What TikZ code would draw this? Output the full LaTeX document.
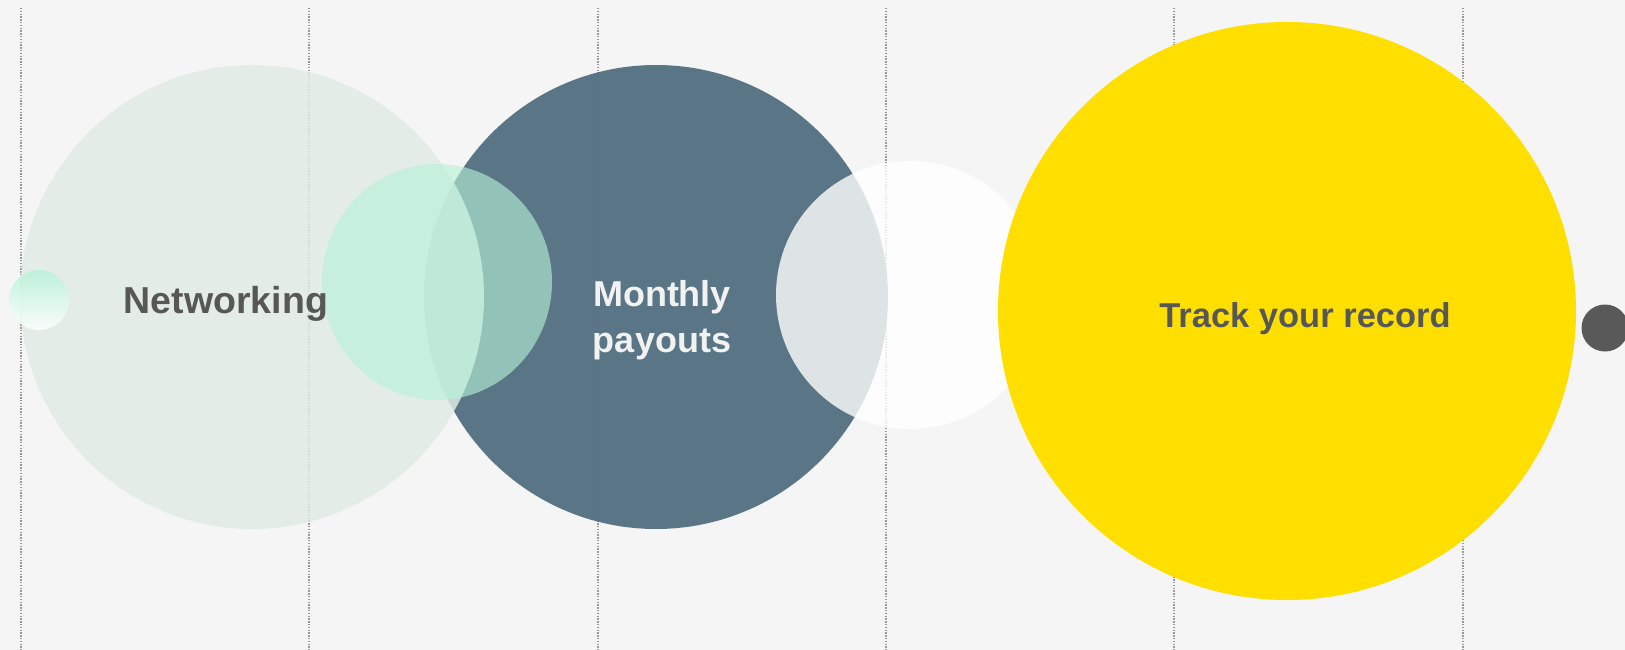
\documentclass[tikz,border=0pt]{standalone}
\usepackage{fontspec}
\setmainfont{Liberation Sans}
\usepackage{xcolor}
\usepackage{tikz}

\definecolor{paper}{HTML}{F5F5F5}
\definecolor{sage}{HTML}{E0EBE5}
\definecolor{slate}{HTML}{557182}
\definecolor{mint}{HTML}{B7F2D9}
\definecolor{sun}{HTML}{FFDF00}
\definecolor{ink}{HTML}{575757}
\definecolor{dot}{HTML}{595959}

\tikzset{
  guide/.style={draw=gray!80, line width=1.2pt, dash pattern=on 1.4pt off 1.4pt},
  label/.style={font=\bfseries}
}

\begin{document}
\begin{tikzpicture}[x=1pt,y=-1pt]
    \fill[paper] (0,0) rectangle (1625,650);
    \useasboundingbox (0,0) rectangle (1625,650);

    % dotted guides
    \foreach \x in {21,309,598,886,1174,1463}
        \draw[guide] (\x,8) -- (\x,650);

    % circles
    \fill[slate,opacity=0.97] (656,297) circle (232);
    \fill[sage,opacity=0.84] (252,297) circle (232);
    \fill[mint,opacity=0.62] (437,282) ellipse (115 and 118);
    \fill[white,opacity=0.8] (910,295) circle (134);
    \fill[sun] (1287,311) circle (289);
    \shade[top color=mint, bottom color=white, opacity=0.85] (39,300) circle (30);
    \fill[dot] (1605,328) circle (23.5);

    % texts
    \node[label, text=ink, font=\fontsize{37.5}{44}\selectfont\bfseries, anchor=base] (net) at (226,313) {Networking};
    \node[label, text=white!95!black, font=\fontsize{36}{46}\selectfont\bfseries, align=center] (pay) at (662,320) {Monthly\\payouts};
    \node[label, text=ink, font=\fontsize{34.5}{40}\selectfont\bfseries, anchor=base] (rec) at (1305,327) {Track your record};
\end{tikzpicture}
\end{document}
